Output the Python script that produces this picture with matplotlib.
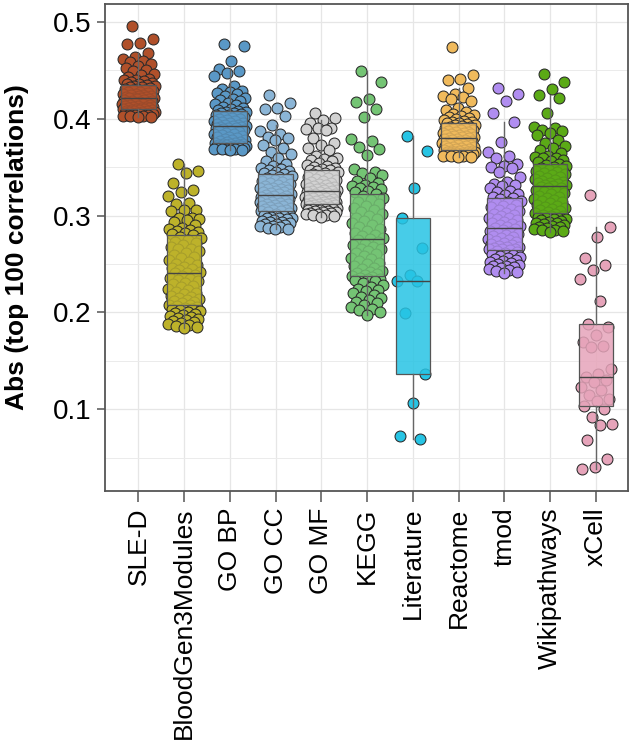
import numpy as np
import matplotlib
matplotlib.use("Agg")
import matplotlib.pyplot as plt
from matplotlib.ticker import MultipleLocator

plt.rcParams['font.family'] = ['Liberation Sans', 'DejaVu Sans']

categories = ["SLE-D", "BloodGen3Modules", "GO BP", "GO CC", "GO MF", "KEGG",
              "Literature", "Reactome", "tmod", "Wikipathways", "xCell"]

colors = ["#B0502A", "#BDB22A", "#5A98C6", "#8BB5D6", "#D2D2D2", "#74C474",
          "#27C4E4", "#F0BA5C", "#B08DF0", "#5BAA16", "#E6A4BA"]

# values in thousandths (abs correlation x 1000)
sle_d = [496, 482, 478, 477, 468, 464, 462, 460, 459, 457, 455, 453, 450, 449, 446, 445, 443, 441, 440, 440, 439, 438, 437, 436, 436,
         435, 434, 434, 433, 433, 432, 431, 431, 430, 430, 429, 428, 428, 427, 426, 426, 425, 425, 424, 424, 423, 423, 422, 422, 421,
         421, 420, 420, 419, 419, 418, 418, 417, 417, 416, 416, 415, 415, 414, 414, 413, 413, 412, 412, 412, 411, 411, 411, 410, 410,
         410, 409, 409, 409, 408, 408, 408, 407, 407, 407, 406, 406, 406, 405, 405, 405, 405, 404, 404, 404, 403, 403, 403, 402, 402]
bloodgen3 = [353, 346, 344, 334, 326, 324, 320, 313, 312, 306, 306, 305, 298, 297, 296, 295, 293, 290, 287, 286, 285, 284, 283, 282, 281,
             280, 278, 277, 275, 273, 272, 270, 268, 266, 265, 263, 261, 259, 257, 256, 254, 252, 250, 249, 247, 246, 245, 244, 242, 241,
             241, 239, 238, 236, 235, 233, 232, 230, 229, 227, 226, 224, 223, 221, 220, 219, 217, 216, 215, 214, 213, 212, 211, 210, 208,
             208, 207, 206, 205, 204, 203, 202, 201, 200, 199, 198, 197, 196, 195, 194, 193, 192, 191, 190, 189, 188, 187, 186, 185, 184]
go_bp = [477, 475, 460, 451, 449, 447, 444, 434, 431, 429, 428, 427, 426, 424, 422, 420, 419, 418, 416, 415, 414, 412, 411, 410, 409,
         408, 407, 407, 406, 406, 405, 404, 404, 403, 402, 402, 401, 400, 400, 399, 398, 398, 397, 396, 396, 395, 394, 394, 393, 393,
         392, 392, 391, 390, 390, 389, 388, 387, 387, 386, 385, 384, 384, 383, 382, 381, 381, 380, 379, 378, 378, 377, 376, 376, 375,
         375, 374, 374, 374, 373, 373, 373, 372, 372, 372, 372, 371, 371, 371, 371, 370, 370, 370, 370, 369, 369, 369, 369, 368, 368]
go_cc = [425, 416, 411, 410, 403, 394, 387, 384, 381, 380, 378, 373, 370, 366, 364, 360, 356, 353, 351, 349, 348, 347, 346, 345, 344,
         343, 342, 341, 340, 339, 338, 337, 336, 335, 334, 333, 332, 331, 330, 329, 328, 327, 327, 326, 325, 324, 324, 323, 322, 322,
         321, 320, 320, 319, 318, 318, 317, 316, 316, 315, 314, 314, 313, 312, 312, 311, 310, 310, 309, 308, 308, 307, 306, 306, 305,
         305, 304, 303, 302, 301, 300, 299, 298, 297, 297, 296, 295, 294, 293, 293, 292, 291, 291, 290, 289, 289, 288, 287, 286, 286]
go_mf = [406, 401, 399, 396, 391, 390, 389, 388, 380, 375, 373, 370, 368, 362, 360, 358, 357, 356, 354, 352, 351, 350, 349, 348, 347,
         347, 346, 345, 344, 343, 342, 341, 340, 339, 338, 337, 336, 335, 334, 333, 333, 332, 331, 330, 329, 328, 328, 327, 326, 326,
         325, 325, 324, 324, 323, 322, 322, 321, 321, 320, 319, 319, 318, 318, 317, 316, 316, 315, 315, 314, 314, 313, 313, 312, 312,
         312, 311, 311, 310, 310, 309, 309, 308, 308, 307, 307, 306, 306, 305, 305, 304, 304, 303, 303, 302, 302, 301, 301, 300, 299]
kegg = [449, 438, 420, 417, 410, 402, 379, 377, 371, 369, 363, 348, 345, 344, 342, 339, 336, 334, 332, 331, 330, 328, 327, 325, 324,
        322, 320, 318, 316, 314, 312, 310, 308, 306, 304, 302, 300, 298, 296, 294, 292, 290, 288, 286, 284, 282, 280, 279, 277, 276,
        275, 273, 271, 270, 268, 266, 265, 263, 261, 260, 258, 256, 255, 253, 251, 250, 248, 246, 245, 243, 242, 241, 240, 239, 238,
        237, 236, 235, 234, 233, 232, 230, 228, 226, 224, 223, 222, 220, 218, 216, 215, 213, 211, 210, 208, 206, 204, 202, 200, 197]
literature = [382, 367, 329, 297, 267, 239, 232, 232, 199, 136, 106, 72, 69]
reactome = [474, 445, 441, 440, 432, 426, 424, 423, 420, 418, 411, 409, 407, 405, 404, 403, 402, 401, 400, 399, 398, 397, 397, 396, 396,
            395, 394, 394, 393, 392, 392, 391, 390, 390, 389, 388, 388, 387, 386, 386, 385, 385, 384, 384, 383, 383, 382, 382, 381, 381,
            380, 380, 379, 379, 378, 378, 377, 377, 376, 376, 375, 375, 374, 374, 373, 373, 372, 372, 371, 371, 370, 370, 369, 369, 368,
            368, 367, 367, 367, 366, 366, 366, 366, 365, 365, 365, 365, 364, 364, 364, 364, 363, 363, 363, 363, 362, 362, 362, 361, 361]
tmod = [432, 426, 418, 406, 397, 376, 366, 362, 360, 353, 351, 350, 349, 345, 340, 335, 333, 332, 331, 328, 325, 324, 322, 321, 319,
        318, 317, 315, 314, 313, 311, 310, 309, 307, 306, 305, 303, 302, 301, 300, 298, 297, 296, 295, 293, 292, 291, 290, 289, 288,
        287, 286, 285, 284, 283, 282, 281, 280, 279, 278, 277, 276, 275, 274, 273, 272, 271, 270, 269, 268, 268, 267, 266, 265, 265,
        264, 263, 262, 261, 260, 259, 258, 257, 256, 255, 254, 253, 252, 251, 250, 249, 248, 248, 247, 246, 245, 244, 243, 242, 241]
wikipathways = [446, 438, 431, 425, 421, 406, 392, 390, 388, 387, 385, 383, 378, 375, 372, 370, 368, 365, 362, 361, 360, 359, 357, 356, 355,
                353, 352, 351, 350, 349, 348, 347, 346, 345, 344, 343, 342, 341, 340, 339, 338, 337, 336, 335, 334, 334, 333, 332, 332, 331,
                330, 329, 328, 326, 325, 324, 323, 322, 320, 319, 318, 317, 316, 315, 314, 313, 311, 310, 309, 308, 307, 306, 305, 304, 303,
                302, 301, 300, 300, 299, 298, 297, 296, 296, 295, 294, 293, 292, 292, 291, 290, 289, 288, 288, 287, 286, 285, 285, 284, 283]
xcell = [321, 288, 278, 256, 249, 244, 235, 212, 188, 185, 177, 169, 165, 164, 142, 136, 133,
         130, 128, 123, 120, 115, 110, 108, 103, 100, 92, 85, 84, 68, 49, 40, 38]

groups = [sle_d, bloodgen3, go_bp, go_cc, go_mf, kegg, literature, reactome, tmod, wikipathways, xcell]
data = [np.array(g) / 1000.0 for g in groups]

fig = plt.figure(figsize=(6.33, 7.44), dpi=100)
ax = fig.add_axes([0.1659, 0.3405, 0.8267, 0.6541])

positions = np.arange(1, len(categories) + 1)
jit = 0.36
for i, (vals, col) in enumerate(zip(data, colors)):
    n = len(vals)
    offs = (((np.arange(n) * 0.6180339887 + 0.31) % 1.0) - 0.5) * 2 * jit
    ax.scatter(positions[i] + offs, vals, s=62, facecolor=col, edgecolor="#2a2a2a",
               linewidth=0.75, zorder=2)

bp = ax.boxplot(data, positions=positions, widths=0.75, patch_artist=True,
                showfliers=False, showcaps=False, whis=1.5,
                medianprops=dict(color="#444444", linewidth=1.0),
                whiskerprops=dict(color="#666666", linewidth=1.0),
                boxprops=dict(edgecolor="#555555", linewidth=0.9),
                zorder=3)
for patch, col in zip(bp['boxes'], colors):
    patch.set_facecolor(matplotlib.colors.to_rgba(col, 0.85))

ax.set_xlim(0.27, 11.71)
ax.set_ylim(0.0158, 0.5186)
ax.yaxis.set_minor_locator(MultipleLocator(0.05))
ax.set_xticks(positions)
ax.set_xticklabels(categories, rotation=90, fontsize=19)
ax.set_yticks([0.1, 0.2, 0.3, 0.4, 0.5])
ax.set_yticklabels(["0.1", "0.2", "0.3", "0.4", "0.5"], fontsize=20)

ax.grid(True, which="major", color="#E6E6E6", linewidth=0.9, zorder=0)
ax.grid(True, which="minor", axis="y", color="#EBEBEB", linewidth=0.7, zorder=0)
ax.set_axisbelow(True)
ax.tick_params(axis="y", which="minor", length=0)
ax.tick_params(axis="y", which="major", direction="out", length=6, width=1.1,
               color="#555555", labelcolor="black", pad=4)
ax.tick_params(axis="x", which="major", direction="out", length=8, width=1.1,
               color="#555555", labelcolor="black", pad=4)
for s in ax.spines.values():
    s.set_color("#555555")
    s.set_linewidth(1.3)

ax.set_ylabel("Abs (top 100 correlations)", fontsize=19, fontweight="bold")
ax.yaxis.set_label_coords(-0.145, 0.5)

fig.savefig("out.png", dpi=100)
